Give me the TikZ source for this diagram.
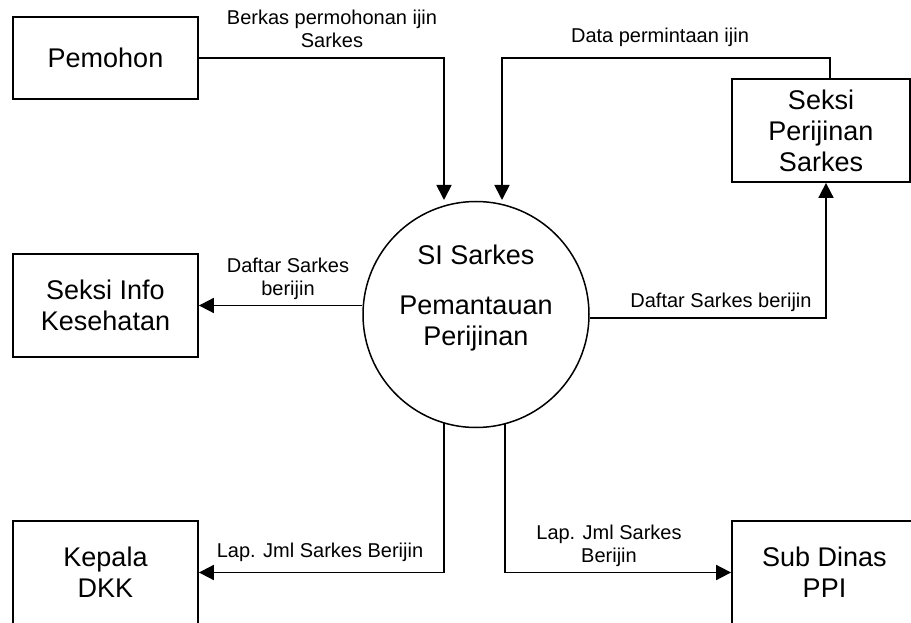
\documentclass[tikz,border=0pt]{standalone}
\usepackage{fontspec}
\setmainfont{Liberation Sans}
\usetikzlibrary{arrows.meta,calc}
\tikzset{
  entity/.style={draw, line width=1.8pt, rectangle, minimum width=185pt,
    minimum height=103pt, align=center, inner sep=0pt,
    font=\fontsize{27}{31}\selectfont},
  process/.style={draw, circle, line width=1.5pt, minimum size=226pt, inner sep=0pt},
  proctext/.style={align=center, inner sep=0pt, font=\fontsize{27}{31}\selectfont},
  flow/.style={line width=1.8pt, -{Triangle[length=15pt,width=15pt]}},
  flowlabel/.style={align=center, inner sep=0pt, anchor=base,
    font=\fontsize{20}{23}\selectfont},
}
\begin{document}
\begin{tikzpicture}[x=1pt,y=-1pt]
\useasboundingbox (0,0) rectangle (911,623);
\clip (0,0) rectangle (911,623);

% external entities
\node[entity, minimum height=82pt] (pem) at (105.5,58) {Pemohon};
\node[entity, minimum width=178pt] (sp) at (821,130.5) {Seksi\\Perijinan\\Sarkes};
\node[entity] (si) at (105.5,305.5) {Seksi Info\\Kesehatan};
\node[entity] (kd) at (105.5,572.5) {Kepala\\DKK};
\node[entity] (sd) at (824.5,572.5) {Sub Dinas\\PPI};

% the process (text baseline is that of its last line)
\node[process] (c) at (476,314.5) {};
\node[proctext, anchor=base] (ct) at (476,345) {SI Sarkes\\[19pt]Pemantauan\\Perijinan};

% points where flows meet the process
\coordinate (in1) at (444,200);
\coordinate (in2) at (502,200);
\coordinate (bend2) at (502,58);
\coordinate (out5) at (444,423);
\coordinate (out6) at (505,423.5);

% data flows
\draw[flow] (pem.east) -| (in1);
\draw[flow] ([xshift=9pt]sp.north) |- (bend2) -- (in2);
\draw[flow] ([yshift=-3.5pt]c.east) -| ([xshift=5pt]sp.south);
\draw[flow] (c.west |- si.east) -- (si.east);
\draw[flow] (out5) |- (kd.east);
\draw[flow] (out6) |- (sd.west);

% flow labels (placed at the baseline of their last line)
\node[flowlabel] (l1) at (332,48) {Berkas permohonan ijin\\Sarkes};
\node[flowlabel] (l2) at (660,43) {Data permintaan ijin};
\node[flowlabel] (l3) at (721,307) {Daftar Sarkes berijin};
\node[flowlabel] (l4) at (288,295) {Daftar Sarkes\\berijin};
\node[flowlabel] (l5) at (320,557) {Lap. Jml Sarkes Berijin};
\node[flowlabel] (l6) at (609,562) {Lap. Jml Sarkes\\Berijin};
\end{tikzpicture}
\end{document}
